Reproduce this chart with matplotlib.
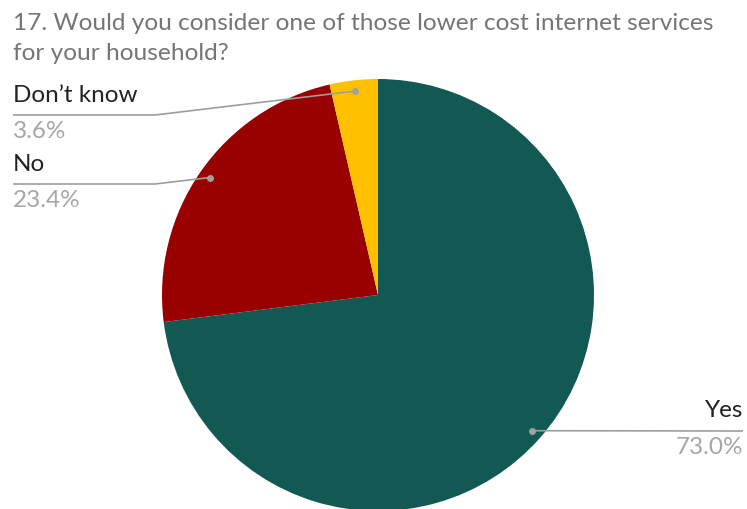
import matplotlib
matplotlib.use("Agg")
import matplotlib.pyplot as plt
import numpy as np

title_lines = ["17. Would you consider one of those lower cost internet services",
               "for your household?"]
categories = ["Yes", "No", "Don\u2019t know"]
values = [73.0, 23.4, 3.6]
colors = ["#135953", "#990000", "#FFC000"]

W, H = 747, 510
fig = plt.figure(figsize=(W / 100, H / 100), dpi=100)
plt.rcParams['font.family'] = ['Lato', 'DejaVu Sans']

cx, cy, R = 378, 296, 216
ax = fig.add_axes([(cx - R) / W, 1 - (cy + R) / H, 2 * R / W, 2 * R / H])

wedges, _ = ax.pie(values, colors=colors, startangle=90, counterclock=False,
                   radius=1, wedgeprops=dict(linewidth=0))
ax.set_xlim(-1, 1)
ax.set_ylim(-1, 1)
ax.set_aspect('equal')
ax.axis('off')
for w in wedges:
    w.set_clip_on(False)

def px2d(px, py):
    return (px - cx) / R, (cy - py) / R

layout = {
    "Yes": dict(elbow=None, end=(743, 432), tx=743, ny=417, py=454, ha='right'),
    "No": dict(elbow=(155, 185), end=(13, 185), tx=13, ny=171, py=207, ha='left'),
    "Don\u2019t know": dict(elbow=(155, 116), end=(13, 116), tx=13, ny=102, py=138, ha='left'),
}

for w, cat, v in zip(wedges, categories, values):
    ang = np.deg2rad((w.theta1 + w.theta2) / 2)
    ax_, ay_ = 0.95 * np.cos(ang), 0.95 * np.sin(ang)
    L = layout[cat]
    pts = [(ax_, ay_)]
    if L["elbow"] is not None:
        pts.append(px2d(*L["elbow"]))
    pts.append(px2d(*L["end"]))
    xs, ys = zip(*pts)
    ax.plot(xs, ys, color="#9e9e9e", lw=1.2, clip_on=False, solid_capstyle='butt')
    ax.plot([ax_], [ay_], 'o', color="#a0a0a0", ms=4, clip_on=False)
    fig.text(L["tx"] / W, 1 - L["ny"] / H, cat, ha=L["ha"], va='baseline',
             fontsize=17.5, color="#222222")
    fig.text(L["tx"] / W, 1 - L["py"] / H, f"{v:.1f}%", ha=L["ha"], va='baseline',
             fontsize=17.5, color="#a6a6a6")

for i, line in enumerate(title_lines):
    fig.text(13 / W, 1 - (30 + 30 * i) / H, line, ha='left', va='baseline',
             fontsize=17.6, color="#757575")

fig.savefig("out.png", dpi=100)
